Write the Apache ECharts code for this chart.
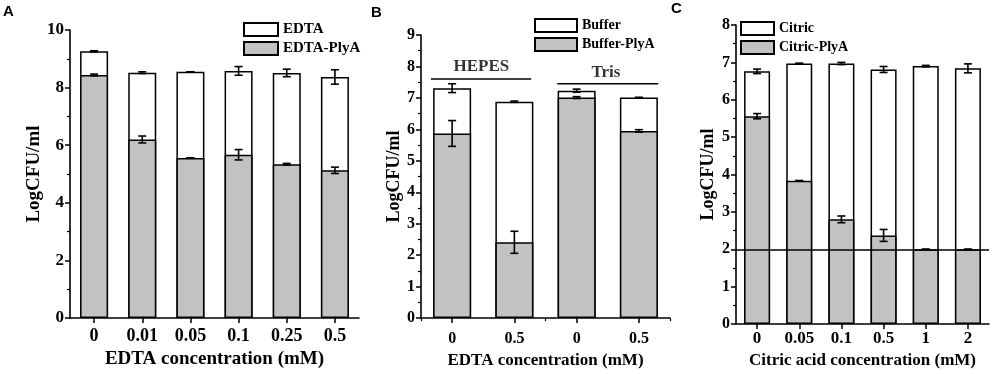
<!DOCTYPE html>
<html>
<head>
<meta charset="utf-8">
<script src="https://cdn.jsdelivr.net/npm/echarts@6/dist/echarts.min.js"></script>
<style>
  html, body { margin: 0; padding: 0; background: #fff; }
  #chart { width: 1000px; height: 374px; }
</style>
</head>
<body>
<div id="chart"></div>
<script>
// ---- panel A : EDTA ----
var catA = ['0', '0.01', '0.05', '0.1', '0.25', '0.5'];
var edta = [9.26, 8.52, 8.55, 8.58, 8.51, 8.37];
var edtaErr = [0.02, 0.03, 0, 0.15, 0.13, 0.25];
var edtaPlyA = [8.44, 6.2, 5.56, 5.67, 5.34, 5.13];
var edtaPlyAErr = [0.03, 0.12, 0, 0.18, 0.03, 0.11];

// ---- panel B : buffers ----
var catB = ['HEPES 0', 'HEPES 0.5', 'Tris 0', 'Tris 0.5'];
var tickB = ['0', '0.5', '0', '0.5'];
var buffer = [7.31, 6.88, 7.23, 7.01];
var bufferErr = [0.14, 0.02, 0.05, 0.01];
var bufferPlyA = [5.87, 2.41, 7.01, 5.95];
var bufferPlyAErr = [0.41, 0.35, 0.03, 0.04];
// group brackets (x in category units, y in LogCFU/ml)
var groupNames = ['HEPES', 'Tris'];
var groupLineX = [[-0.34, 1.27], [1.69, 3.31]];
var groupLineY = [7.6, 7.45];
var groupTextX = [0.47, 2.47];
var groupTextY = [7.99, 7.8];

// ---- panel C : citric acid ----
var catC = ['0', '0.05', '0.1', '0.5', '1', '2'];
var citric = [6.76, 6.97, 6.97, 6.81, 6.9, 6.84];
var citricErr = [0.06, 0.01, 0.03, 0.08, 0.02, 0.12];
var citricPlyA = [5.56, 3.83, 2.8, 2.37, 2.0, 2.0];
var citricPlyAErr = [0.07, 0.01, 0.09, 0.16, 0, 0];
var limitC = 2;

var serif = 'Liberation Serif';
var grayFill = '#c2c2c2';

function errData(vals, errs) {
  return vals.map(function (v, i) { return [i, v, errs[i]]; });
}

function errRender(params, api) {
  var x = api.value(0), y = api.value(1), e = api.value(2);
  var top = api.coord([x, y + e]);
  var bot = api.coord([x, y - e]);
  var half = 4;
  var st = { stroke: '#000', lineWidth: 1.6 };
  return {
    type: 'group',
    children: [
      { type: 'line', shape: { x1: top[0], y1: top[1], x2: bot[0], y2: bot[1] }, style: st },
      { type: 'line', shape: { x1: top[0] - half, y1: top[1], x2: top[0] + half, y2: top[1] }, style: st },
      { type: 'line', shape: { x1: bot[0] - half, y1: bot[1], x2: bot[0] + half, y2: bot[1] }, style: st }
    ]
  };
}

function barSeries(name, data, xIdx, yIdx, fill, width) {
  return {
    name: name, type: 'bar', xAxisIndex: xIdx, yAxisIndex: yIdx,
    data: data, barWidth: width, barGap: '-100%',
    itemStyle: { color: fill, borderColor: '#000', borderWidth: 1.5 },
    emphasis: { disabled: true }
  };
}

function errSeries(vals, errs, xIdx, yIdx) {
  return {
    type: 'custom', xAxisIndex: xIdx, yAxisIndex: yIdx,
    data: errData(vals, errs), renderItem: errRender,
    encode: { x: 0, y: 1 }, z: 5, silent: true
  };
}

function yAxis(grid, max, interval, fontSize, nameSize, nameGap) {
  return {
    type: 'value', gridIndex: grid, min: 0, max: max, interval: interval,
    name: 'LogCFU/ml', nameLocation: 'middle', nameGap: nameGap,
    nameTextStyle: { fontFamily: serif, fontWeight: 'bold', fontSize: nameSize, color: '#000' },
    axisLine: { show: true, onZero: false, lineStyle: { color: '#000', width: 1.6 } },
    axisTick: { show: true, length: 5, lineStyle: { color: '#000', width: 1.5 } },
    minorTick: { show: true, splitNumber: 2, length: 3, lineStyle: { color: '#000', width: 1.2 } },
    axisLabel: { fontFamily: serif, fontWeight: 'bold', fontSize: fontSize, color: '#000', margin: 6 },
    splitLine: { show: false }
  };
}

function xAxis(grid, cats, name, fontSize, nameSize, nameGap, labelMargin, formatter) {
  return {
    type: 'category', gridIndex: grid, data: cats, position: 'bottom',
    name: name, nameLocation: 'middle', nameGap: nameGap,
    nameTextStyle: { fontFamily: serif, fontWeight: 'bold', fontSize: nameSize, color: '#000' },
    axisLine: { show: true, onZero: false, lineStyle: { color: '#000', width: 1.6 } },
    axisTick: { show: true, alignWithLabel: true, length: 5, lineStyle: { color: '#000', width: 1.5 } },
    axisLabel: { fontFamily: serif, fontWeight: 'bold', fontSize: fontSize, color: '#000',
                 margin: labelMargin, interval: 0, formatter: formatter },
    splitLine: { show: false }
  };
}

function legend(names, left, top, w, size) {
  return {
    data: names, orient: 'vertical', left: left, top: top, padding: 0,
    itemWidth: w, itemHeight: 13, itemGap: 4, icon: 'rect',
    textStyle: { fontFamily: serif, fontWeight: 'bold', fontSize: size, color: '#000' },
    selectedMode: false
  };
}

function panelTitle(t, left, top) {
  return { text: t, left: left, top: top, padding: 0,
           textStyle: { fontFamily: 'Liberation Sans', fontWeight: 'bold', fontSize: 15, color: '#000' } };
}

var chart = echarts.init(document.getElementById('chart'));

var option = {
  animation: false,
  backgroundColor: '#fff',
  title: [panelTitle('A', 3, 4), panelTitle('B', 371, 5), panelTitle('C', 671, 1)],
  legend: [
    legend(['EDTA', 'EDTA-PlyA'], 243, 22, 34, 15),
    legend(['Buffer', 'Buffer-PlyA'], 534, 18, 42, 14),
    legend(['Citric', 'Citric-PlyA'], 740, 21, 33, 14)
  ],
  grid: [
    { left: 70, width: 289, top: 30, height: 292 },
    { left: 421, width: 249, top: 35, height: 290 },
    { left: 736, width: 253, top: 25, height: 299 }
  ],
  xAxis: [
    xAxis(0, catA, 'EDTA concentration (mM)', 18, 19, 28, 9),
    xAxis(1, catB, 'EDTA concentration (mM)', 16, 17, 26, 13, function (v, i) { return tickB[i]; }),
    {
      type: 'category', gridIndex: 1, data: catB, position: 'bottom',
      axisLine: { show: false, onZero: false }, axisLabel: { show: false },
      axisTick: { show: true, length: 3, lineStyle: { color: '#000', width: 1.2 } }
    },
    { type: 'value', gridIndex: 1, min: -0.5, max: 3.5, show: false, axisLine: { onZero: false } },
    xAxis(2, catC, 'Citric acid concentration (mM)', 17, 17, 25, 6)
  ],
  yAxis: [
    yAxis(0, 10, 2, 17, 19, 24),
    yAxis(1, 9, 1, 16, 18, 16),
    yAxis(2, 8, 1, 16, 18, 19)
  ],
  series: [
    barSeries('EDTA', edta, 0, 0, '#fff', 28),
    barSeries('EDTA-PlyA', edtaPlyA, 0, 0, grayFill, 28),
    errSeries(edta, edtaErr, 0, 0),
    errSeries(edtaPlyA, edtaPlyAErr, 0, 0),

    barSeries('Buffer', buffer, 1, 1, '#fff', 38),
    barSeries('Buffer-PlyA', bufferPlyA, 1, 1, grayFill, 38),
    errSeries(buffer, bufferErr, 1, 1),
    errSeries(bufferPlyA, bufferPlyAErr, 1, 1),
    {
      type: 'line', xAxisIndex: 3, yAxisIndex: 1, symbol: 'none', silent: true,
      data: [[groupLineX[0][0], groupLineY[0]], [groupLineX[0][1], groupLineY[0]]],
      lineStyle: { color: '#000', width: 1.5 }
    },
    {
      type: 'line', xAxisIndex: 3, yAxisIndex: 1, symbol: 'none', silent: true,
      data: [[groupLineX[1][0], groupLineY[1]], [groupLineX[1][1], groupLineY[1]]],
      lineStyle: { color: '#000', width: 1.5 }
    },
    {
      type: 'scatter', xAxisIndex: 3, yAxisIndex: 1, symbolSize: 1, silent: true,
      itemStyle: { color: 'transparent' },
      data: groupNames.map(function (n, i) { return [groupTextX[i], groupTextY[i], n]; }),
      label: {
        show: true, position: 'inside', formatter: function (p) { return p.value[2]; },
        fontFamily: serif, fontWeight: 'bold', fontSize: 17, color: '#000'
      }
    },

    barSeries('Citric', citric, 4, 2, '#fff', 26),
    Object.assign(barSeries('Citric-PlyA', citricPlyA, 4, 2, grayFill, 26), {
      markLine: {
        silent: true, symbol: 'none', label: { show: false },
        lineStyle: { color: '#000', width: 1.5, type: 'solid' },
        data: [{ yAxis: limitC }]
      }
    }),
    errSeries(citric, citricErr, 4, 2),
    errSeries(citricPlyA, citricPlyAErr, 4, 2)
  ]
};

chart.setOption(option);
</script>
</body>
</html>
